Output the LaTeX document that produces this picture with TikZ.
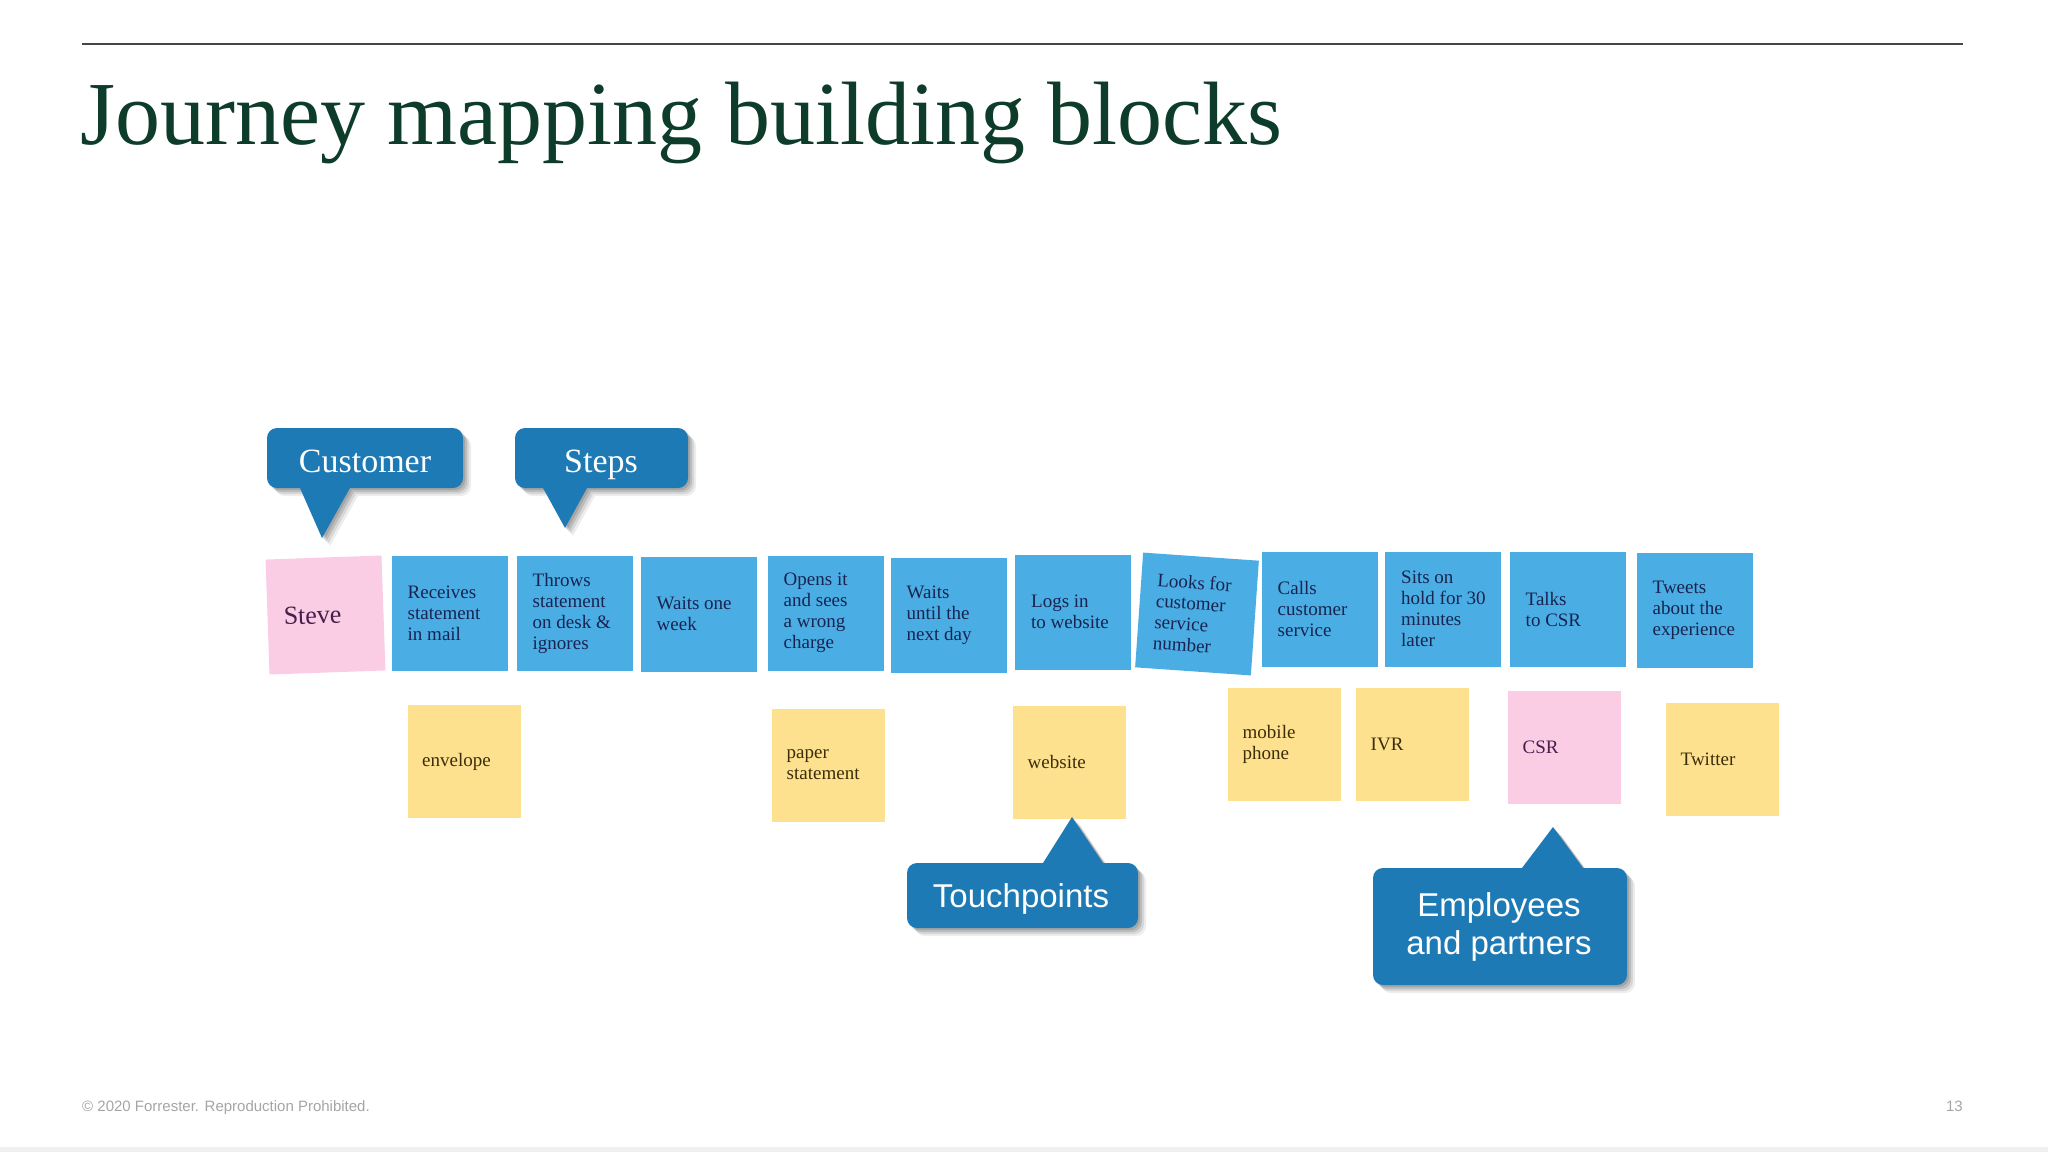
\documentclass[tikz,border=0pt]{standalone}
\usepackage{fontspec}
\setmainfont{Liberation Serif}
\newfontfamily\sansf{Liberation Sans}
\definecolor{stickyblue}{RGB}{74,174,228}
\definecolor{stickyyellow}{RGB}{253,225,142}
\definecolor{stickypink}{RGB}{250,205,229}
\definecolor{callblue}{RGB}{30,122,180}
\definecolor{titlegreen}{RGB}{14,60,42}
\definecolor{navytext}{RGB}{25,35,80}
\definecolor{browntext}{RGB}{60,45,10}
\definecolor{plumtext}{RGB}{70,30,75}
\definecolor{footgray}{RGB}{165,165,165}
\definecolor{rulegray}{RGB}{70,70,70}
\tikzset{
  note/.style={minimum width=116pt, minimum height=115pt, inner sep=0pt, draw=none},
  stepnote/.style={note, fill=stickyblue},
  pinkstep/.style={note, fill=stickypink},
  touchnote/.style={note, minimum width=113pt, minimum height=113pt, fill=stickyyellow},
  pinktouch/.style={note, minimum width=113pt, minimum height=113pt, fill=stickypink},
  notetext/.style={anchor=west, align=left, inner sep=0pt, font=\fontsize{19}{21}\selectfont},
  calltext/.style={text=white, inner sep=0pt},
}
\newcommand\sticky[7]{% name, style, cx, cy, angle, text colour, text
  \begin{scope}[shift={(#3,#4)}, rotate=#5]
    \node[#2, transform shape] (#1) at (0,0) {};
    \node[notetext, transform shape, text=#6] (#1-t) at (-42,0) {#7};
  \end{scope}}
% callout: box x1 y1 x2 y2, tail base on edge y=#5 from #6 to #7, apex (#8,#9)
\newcommand\bubble[9]{%
  \foreach \d/\o in {8/0.07,6/0.09,4/0.12,2/0.12}{%
    \fill[black, opacity=\o, shift={(\d,\d)}, rounded corners=10pt] (#1,#2) rectangle (#3,#4);
    \fill[black, opacity=\o, shift={(\d,\d)}] (#6,#5) -- (#8,#9) -- (#7,#5) -- cycle;}
  \fill[callblue, rounded corners=10pt] (#1,#2) rectangle (#3,#4);
  \fill[callblue] (#6,#5) -- (#8,#9) -- (#7,#5) -- cycle;}
\begin{document}
\begin{tikzpicture}[x=1pt, y=-1pt]
\useasboundingbox (0,0) rectangle (2048,1152);
\fill[white] (0,0) rectangle (2048,1152);
\fill[black!6] (0,1147) rectangle (2048,1152);
% top rule and title
\draw[rulegray, line width=2.5pt] (82,44) -- (1963,44);
\node[anchor=base west, inner sep=0pt, text=titlegreen, font=\fontsize{90}{100}\selectfont] (title) at (80,144) {Journey mapping building blocks};
% step notes
\sticky{steve}{pinkstep}{325.5}{615}{2}{plumtext}{\fontsize{26}{28}\selectfont Steve}
\sticky{s1}{stepnote}{449.5}{613}{0}{navytext}{Receives\\statement\\in mail}
\sticky{s2}{stepnote}{574.5}{613}{0}{navytext}{Throws\\statement\\on desk \&\\ignores}
\sticky{s3}{stepnote}{698.5}{614}{0}{navytext}{Waits one\\week}
\sticky{s4}{stepnote}{825.5}{613}{0}{navytext}{Opens it\\and sees\\a wrong\\charge}
\sticky{s5}{stepnote}{948.5}{615}{0}{navytext}{Waits\\until the\\next day}
\sticky{s6}{stepnote}{1073}{612}{0}{navytext}{Logs in\\to website}
\sticky{s7}{stepnote}{1197}{614}{-4}{navytext}{Looks for\\customer\\service\\number}
\sticky{s8}{stepnote}{1319.5}{609}{0}{navytext}{Calls\\customer\\service}
\sticky{s9}{stepnote}{1443}{609}{0}{navytext}{Sits on\\hold for 30\\minutes\\later}
\sticky{s10}{stepnote}{1567.5}{609}{0}{navytext}{Talks\\to CSR}
\sticky{s11}{stepnote}{1694.5}{610.5}{0}{navytext}{Tweets\\about the\\experience}
% touchpoints
\sticky{t1}{touchnote}{464}{761.5}{0}{browntext}{envelope}
\sticky{t2}{touchnote}{828.5}{765}{0}{browntext}{paper\\statement}
\sticky{t3}{touchnote}{1069.5}{762}{0}{browntext}{website}
\sticky{t4}{touchnote}{1284.5}{744.5}{0}{browntext}{mobile\\phone}
\sticky{t5}{touchnote}{1412.5}{744.5}{0}{browntext}{IVR}
\sticky{t6}{pinktouch}{1564.5}{747}{0}{plumtext}{CSR}
\sticky{t7}{touchnote}{1722.5}{759}{0}{browntext}{Twitter}
% callouts
\bubble{267}{428}{463}{488}{488}{300}{350}{322}{538}
\node[calltext, anchor=base, font=\fontsize{34}{36}\selectfont] (customer) at (365,472) {Customer};
\bubble{515}{428}{688}{488}{488}{543}{587}{565}{528}
\node[calltext, anchor=base, font=\fontsize{34}{36}\selectfont] (steps) at (601,472) {Steps};
\bubble{907}{863}{1138}{928}{863}{1043}{1103}{1072}{817}
\node[calltext, anchor=base, font=\sansf\fontsize{33}{38}\selectfont] (touchpoints) at (1021,907) {Touchpoints};
\bubble{1373}{868}{1627}{985}{868}{1522}{1583}{1553}{827}
\node[calltext, align=center, font=\sansf\fontsize{33}{38}\selectfont] (employees) at (1499,927) {Employees\\and partners};
% footer
\node[anchor=base west, inner sep=0pt, text=footgray, font=\sansf\fontsize{15}{17}\selectfont] (footer) at (82,1111) {© 2020 Forrester. Reproduction Prohibited.};
\node[anchor=base east, inner sep=0pt, text=footgray, font=\sansf\fontsize{15}{17}\selectfont] (pagenum) at (1963,1111) {13};
\end{tikzpicture}
\end{document}
